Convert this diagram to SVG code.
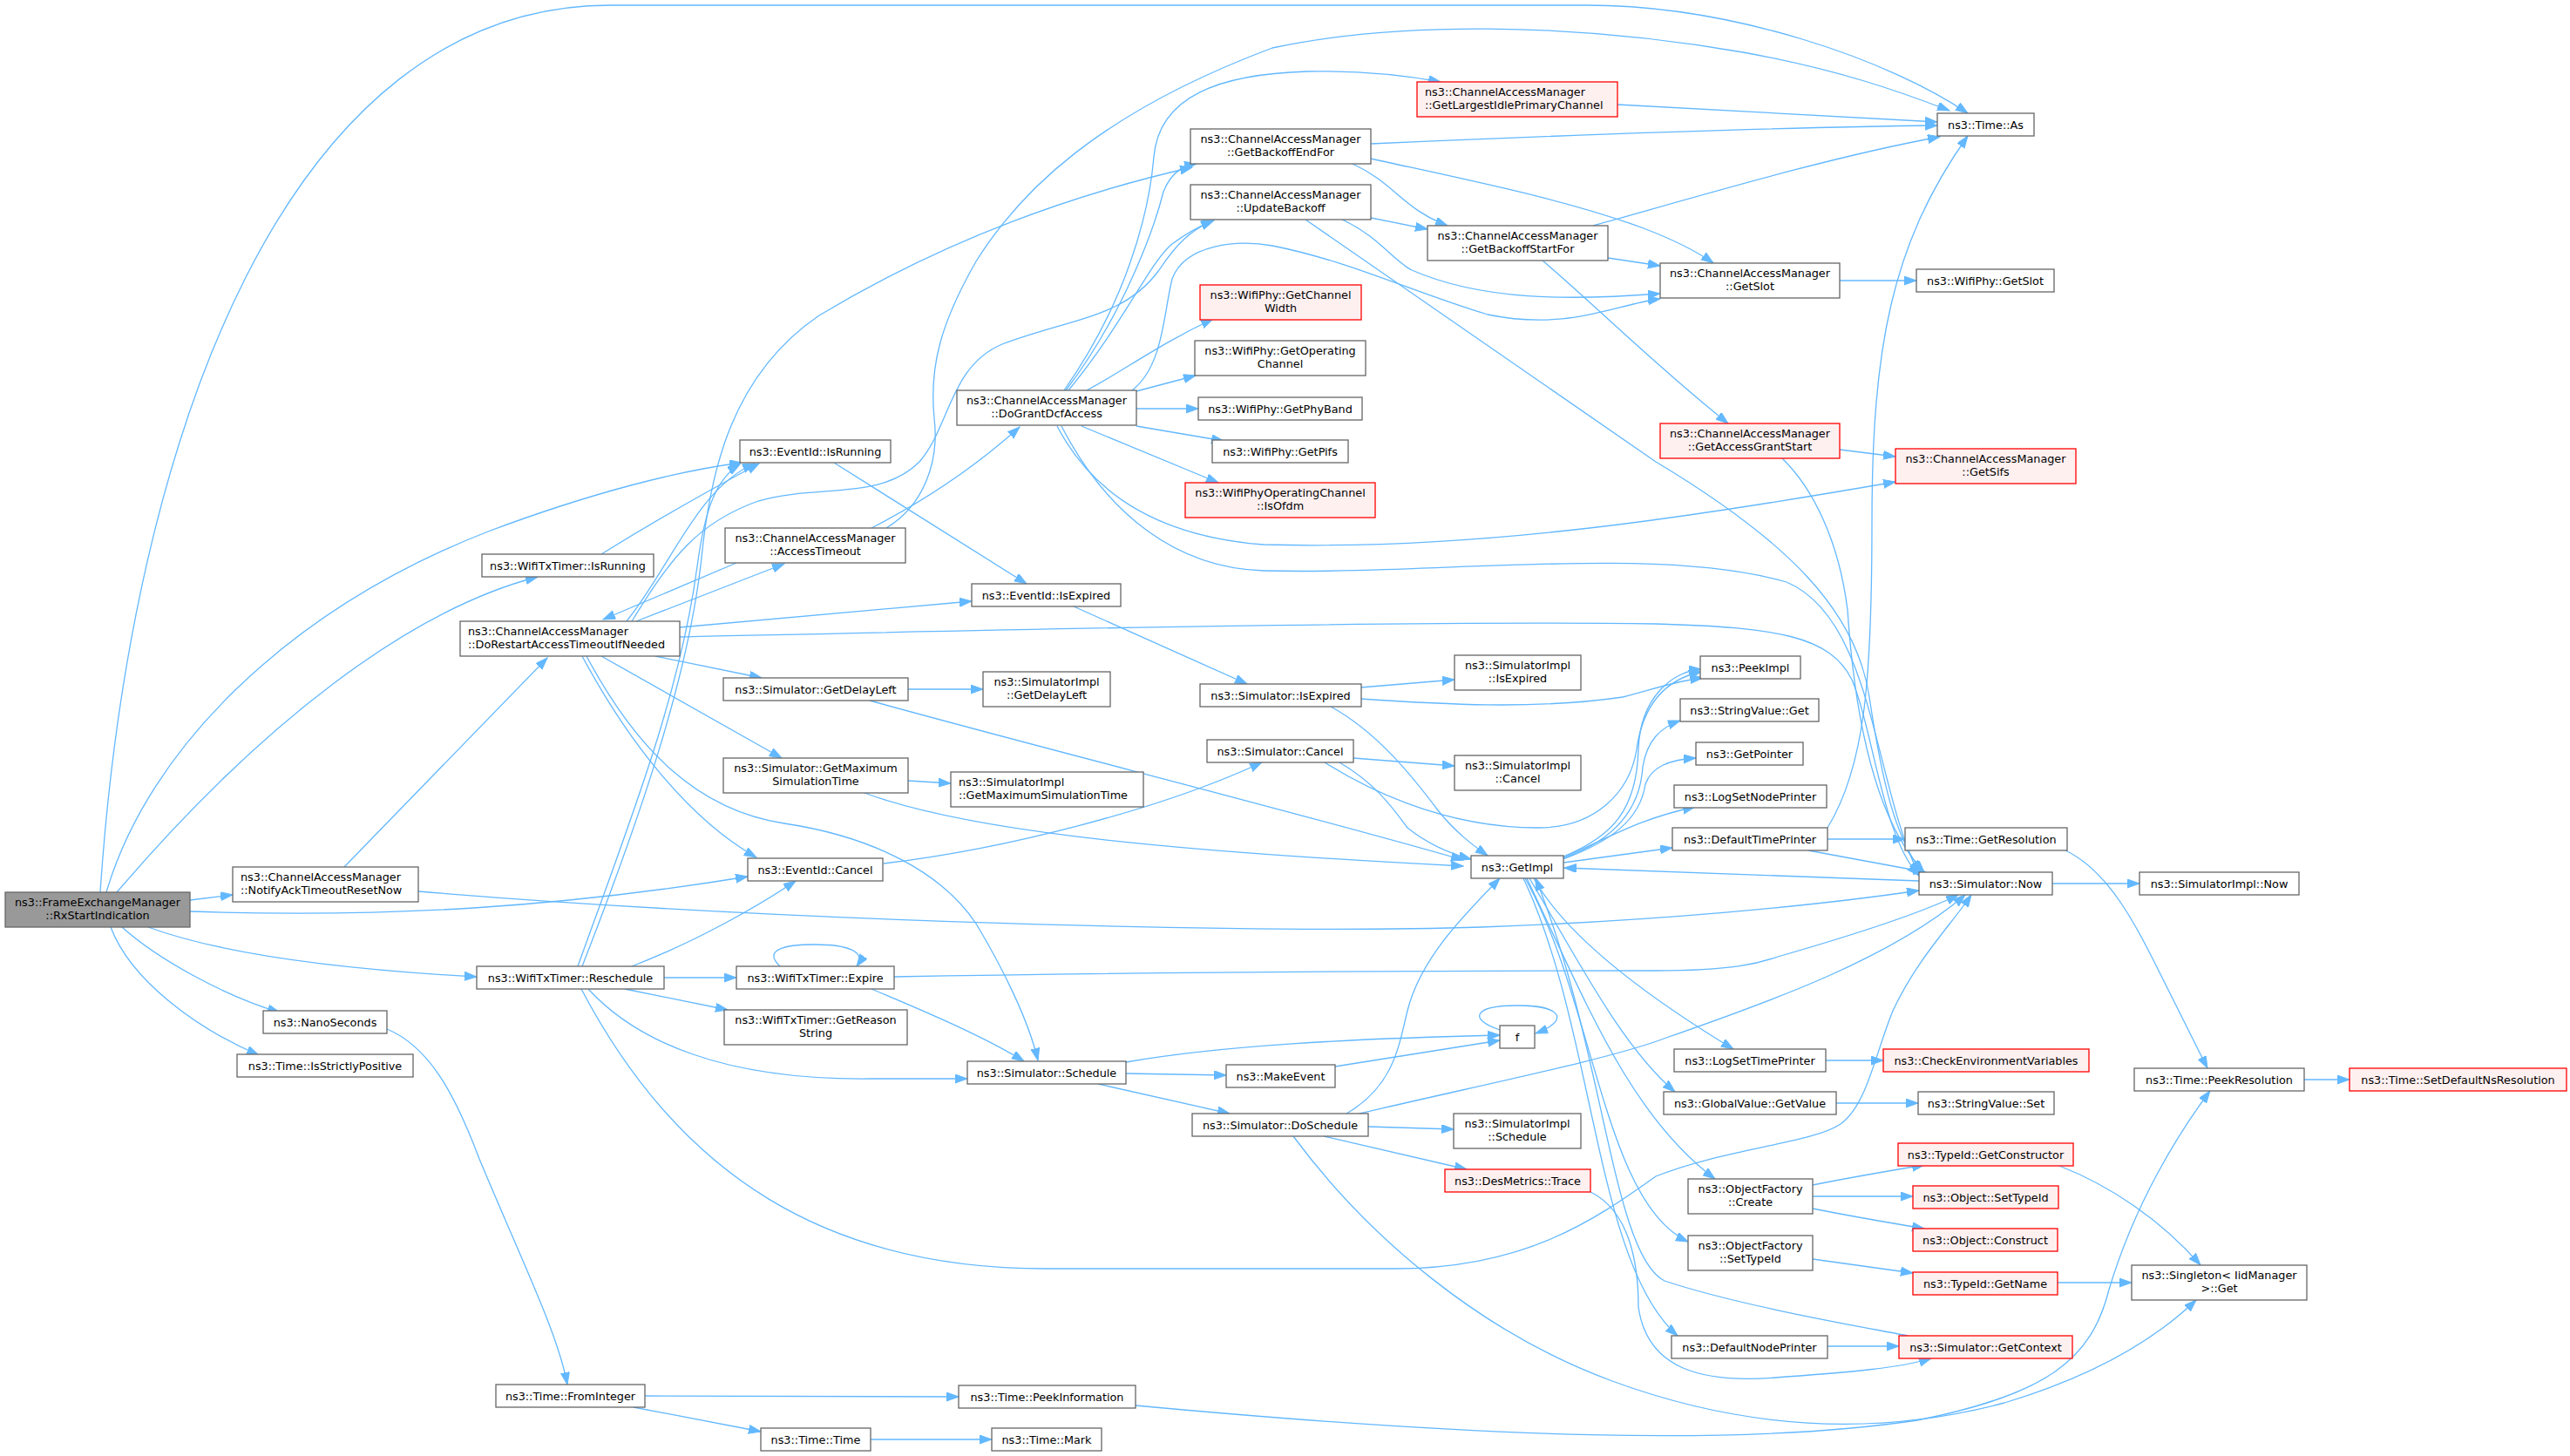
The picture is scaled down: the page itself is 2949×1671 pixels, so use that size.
<svg xmlns="http://www.w3.org/2000/svg" width="2949" height="1671" viewBox="0 0 2949 1671">
<defs>
<style>
.nd rect{fill:#ffffff;stroke:#666666;stroke-width:1.3}
.rd rect{fill:#fff0f0;stroke:#ff0000;stroke-width:1.3}
.gd rect{fill:#999999;stroke:#666666;stroke-width:1.3}
text{font-family:"DejaVu Sans","Liberation Sans",sans-serif;font-size:12.8px;fill:#000000;text-anchor:middle}
text.l{text-anchor:start}
#edges path{fill:none;stroke:#63b8ff;stroke-width:1.3;marker-end:url(#a)}
</style>
<marker id="a" markerUnits="userSpaceOnUse" markerWidth="15" markerHeight="11" refX="14" refY="5" orient="auto" viewBox="0 0 15 11"><path d="M0,0 L14,5 L0,10 z" fill="#63b8ff" stroke="#63b8ff" stroke-width="1"/></marker>
</defs>
<rect x="0" y="0" width="2949" height="1671" fill="#ffffff"/>
<g id="edges">
<path d="M115,1024 C150,500 330,6 700,6 L1820,6 C1990,6 2170,70 2258,130"/>
<path d="M122,1024 C170,860 330,700 560,610 C680,565 780,540 851,531"/>
<path d="M134,1024 C300,830 470,700 617,662"/>
<path d="M218,1033 L267,1027"/>
<path d="M218,1046 C450,1054 650,1040 858,1006"/>
<path d="M170,1064 C260,1097 400,1113 547,1121"/>
<path d="M140,1064 C180,1100 255,1142 321,1162"/>
<path d="M127,1064 C150,1125 225,1180 297,1211"/>
<path d="M690,636 C740,605 800,570 871,532"/>
<path d="M395,995 L628,755"/>
<path d="M480,1023 C900,1058 1450,1072 1700,1064 C1900,1057 2080,1040 2202,1022"/>
<path d="M719,713 C770,650 800,560 866,532"/>
<path d="M663,1109 C720,950 780,800 800,650 C808,590 820,550 849,533"/>
<path d="M668,1109 C730,950 790,780 805,640 C815,540 840,430 940,362 C1060,290 1200,230 1368,192"/>
<path d="M725,713 C770,640 800,600 870,575 C940,555 1010,575 1055,530 C1090,490 1090,420 1150,395 C1230,365 1290,365 1330,310 C1350,280 1365,265 1392,253"/>
<path d="M1017,606 C1060,580 1078,530 1072,480 C1066,420 1080,370 1120,300 C1170,220 1260,130 1460,55 C1600,25 1800,25 2000,60 C2110,80 2180,105 2237,127"/>
<path d="M730,713 L900,647"/>
<path d="M845,646 L692,711"/>
<path d="M1000,606 C1060,575 1120,535 1170,490"/>
<path d="M780,720 L1115,690"/>
<path d="M780,731 C1100,724 1600,712 1900,716 C2040,720 2100,730 2125,780 C2150,840 2160,960 2202,1005"/>
<path d="M752,753 L874,778"/>
<path d="M690,753 L897,870"/>
<path d="M668,753 C720,850 790,940 868,984"/>
<path d="M673,753 C730,860 800,930 900,945 C1000,960 1080,1000 1120,1060 C1150,1110 1180,1170 1191,1217"/>
<path d="M957,531 L1178,670"/>
<path d="M1232,696 L1431,785"/>
<path d="M1042,791 L1128,791"/>
<path d="M998,804 C1200,860 1500,935 1679,987"/>
<path d="M1042,896 L1091,899"/>
<path d="M992,910 C1100,950 1300,975 1679,994"/>
<path d="M1014,991 C1150,975 1330,930 1448,875"/>
<path d="M762,1122 L845,1122"/>
<path d="M717,1135 L835,1159"/>
<path d="M675,1135 C730,1195 830,1240 1000,1238 L1110,1238"/>
<path d="M667,1135 C780,1350 950,1456 1200,1456 L1600,1456 C1750,1456 1830,1400 1900,1350 C1980,1318 2080,1312 2112,1290 C2142,1268 2150,1215 2172,1160 C2200,1100 2240,1060 2262,1027"/>
<path d="M725,1109 C800,1080 870,1040 913,1011"/>
<path d="M895,1109 C875,1090 900,1084 935,1084 C972,1084 995,1092 983,1109"/>
<path d="M1000,1135 C1060,1160 1130,1190 1175,1218"/>
<path d="M1026,1121 C1300,1116 1600,1114 1900,1114 C1990,1114 2020,1105 2040,1098 C2120,1075 2200,1050 2247,1027"/>
<path d="M444,1181 C490,1200 520,1250 550,1330 C600,1450 640,1530 651,1589"/>
<path d="M740,1602 L1100,1603"/>
<path d="M727,1615 L873,1643"/>
<path d="M999,1652 L1138,1652"/>
<path d="M1303,1613 C1700,1650 2000,1660 2200,1630 C2350,1600 2400,1560 2420,1480 C2450,1380 2500,1300 2536,1252"/>
<path d="M1292,1219 C1400,1200 1550,1192 1721,1188"/>
<path d="M1292,1232 L1407,1234"/>
<path d="M1260,1244 L1411,1278"/>
<path d="M1532,1224 L1721,1194"/>
<path d="M1721,1182 C1685,1170 1690,1154 1741,1154 C1795,1154 1800,1172 1762,1186"/>
<path d="M1570,1293 L1668,1296"/>
<path d="M1519,1304 L1683,1342"/>
<path d="M1545,1278 C1600,1246 1605,1200 1615,1160 C1630,1100 1680,1050 1721,1008"/>
<path d="M1560,1278 C1700,1245 1850,1215 1912,1191 C2030,1150 2170,1100 2255,1027"/>
<path d="M1484,1304 C1570,1420 1700,1530 1850,1585 C2000,1640 2150,1650 2300,1610 C2400,1580 2470,1540 2520,1492"/>
<path d="M1221,448 C1290,350 1318,250 1324,180 C1330,110 1400,85 1500,82 C1560,81 1610,86 1653,94"/>
<path d="M1223,448 C1290,360 1325,260 1335,220 C1345,195 1360,190 1373,188"/>
<path d="M1226,448 C1290,370 1320,300 1345,280 C1365,265 1380,258 1393,253"/>
<path d="M1299,448 C1335,420 1335,360 1345,320 C1360,280 1420,275 1460,282 C1550,300 1620,335 1707,361 C1800,380 1850,350 1905,343"/>
<path d="M1247,448 C1290,425 1330,395 1392,366"/>
<path d="M1304,449 L1372,431"/>
<path d="M1304,469 L1375,469"/>
<path d="M1304,489 L1404,506"/>
<path d="M1241,489 L1398,554"/>
<path d="M1213,489 C1250,560 1320,615 1450,625 C1700,632 1950,592 2175,553"/>
<path d="M1218,489 C1270,590 1350,652 1450,655 C1650,660 1900,625 2050,668 C2150,710 2150,900 2202,1004"/>
<path d="M1573,165 C1800,155 2050,146 2223,144"/>
<path d="M1552,188 C1600,210 1610,240 1661,259"/>
<path d="M1573,182 C1700,210 1800,230 1886,262 C1920,275 1945,287 1966,302"/>
<path d="M1573,250 L1638,263"/>
<path d="M1540,252 C1580,270 1600,300 1620,310 C1700,345 1800,345 1905,337"/>
<path d="M1498,252 L1900,530 C2050,620 2130,700 2145,800 C2160,900 2175,960 2205,1001"/>
<path d="M1856,120 L2223,140"/>
<path d="M1828,259 C1950,225 2100,180 2226,157"/>
<path d="M1845,296 L1905,305"/>
<path d="M1770,299 C1830,350 1900,420 1983,486"/>
<path d="M2111,322 L2199,322"/>
<path d="M2111,516 L2175,524"/>
<path d="M2045,526 C2080,560 2110,620 2120,700 C2130,850 2160,950 2208,1001"/>
<path d="M1561,789 L1669,780"/>
<path d="M1561,802 C1650,808 1760,815 1862,800 C1900,790 1930,780 1954,778"/>
<path d="M1527,811 C1580,840 1620,890 1650,930 C1670,955 1690,970 1707,982"/>
<path d="M1553,870 L1669,879"/>
<path d="M1537,875 C1580,900 1600,930 1615,950 C1640,970 1665,980 1688,986"/>
<path d="M1520,875 C1560,900 1650,950 1765,950 C1830,950 1870,910 1878,860 C1885,810 1910,780 1952,771"/>
<path d="M1794,983 C1850,960 1878,930 1880,860 C1882,800 1920,770 1952,768"/>
<path d="M1794,985 C1850,965 1882,930 1885,880 C1890,850 1905,835 1928,827"/>
<path d="M1794,986 C1850,965 1882,940 1888,900 C1895,880 1915,872 1946,870"/>
<path d="M1794,984 C1850,960 1880,940 1945,926"/>
<path d="M1794,990 L1919,973"/>
<path d="M2202,1011 L1795,996"/>
<path d="M2097,950 C2140,880 2148,780 2148,600 C2148,400 2170,280 2258,156"/>
<path d="M2097,963 L2186,963"/>
<path d="M2075,976 L2210,1001"/>
<path d="M2370,976 C2420,1000 2450,1060 2480,1120 C2500,1160 2520,1200 2533,1226"/>
<path d="M2355,1014 L2455,1014"/>
<path d="M2644,1239 L2696,1239"/>
<path d="M1760,1008 C1800,1080 1900,1150 1989,1204"/>
<path d="M1755,1008 C1810,1100 1860,1200 1922,1253"/>
<path d="M1752,1008 C1820,1150 1870,1280 1968,1353"/>
<path d="M1750,1008 C1830,1150 1840,1380 1937,1425"/>
<path d="M1748,1008 C1830,1180 1830,1450 1925,1533"/>
<path d="M2189,1533 C2150,1525 2000,1500 1910,1470 C1850,1440 1840,1200 1762,1008"/>
<path d="M1825,1368 C1870,1390 1880,1450 1880,1500 C1890,1570 1950,1590 2050,1580 C2120,1575 2180,1570 2216,1559"/>
<path d="M2097,1545 L2179,1545"/>
<path d="M2095,1217 L2161,1217"/>
<path d="M2107,1266 L2201,1266"/>
<path d="M2080,1360 C2120,1352 2160,1345 2208,1337"/>
<path d="M2080,1373 L2195,1373"/>
<path d="M2080,1387 C2120,1395 2160,1402 2208,1410"/>
<path d="M2080,1445 L2195,1461"/>
<path d="M2363,1338 C2420,1360 2480,1400 2525,1452"/>
<path d="M2361,1472 L2446,1472"/>
</g>
<g id="n_rx" class="gd"><rect x="6" y="1024" width="212" height="40"/><text x="112" y="1040">ns3::FrameExchangeManager</text><text x="112" y="1055">::RxStartIndication</text></g>
<g id="n_notify" class="nd"><rect x="267" y="995" width="213" height="40"/><text class="l" x="276" y="1011">ns3::ChannelAccessManager</text><text class="l" x="276" y="1026">::NotifyAckTimeoutResetNow</text></g>
<g id="n_wtxisrun" class="nd"><rect x="553" y="636" width="197" height="26"/><text x="651.5" y="653.5">ns3::WifiTxTimer::IsRunning</text></g>
<g id="n_dorestart" class="nd"><rect x="528" y="713" width="252" height="40"/><text class="l" x="537" y="729">ns3::ChannelAccessManager</text><text class="l" x="537" y="744">::DoRestartAccessTimeoutIfNeeded</text></g>
<g id="n_resched" class="nd"><rect x="547" y="1109" width="215" height="26"/><text x="654.5" y="1126.5">ns3::WifiTxTimer::Reschedule</text></g>
<g id="n_nano" class="nd"><rect x="302" y="1160" width="142" height="26"/><text x="373" y="1177.5">ns3::NanoSeconds</text></g>
<g id="n_strict" class="nd"><rect x="272" y="1210" width="202" height="26"/><text x="373" y="1227.5">ns3::Time::IsStrictlyPositive</text></g>
<g id="n_evrun" class="nd"><rect x="849" y="505" width="173" height="26"/><text x="935.5" y="522.5">ns3::EventId::IsRunning</text></g>
<g id="n_accto" class="nd"><rect x="832" y="606" width="207" height="40"/><text x="935.5" y="622">ns3::ChannelAccessManager</text><text x="935.5" y="637">::AccessTimeout</text></g>
<g id="n_delay" class="nd"><rect x="830" y="778" width="212" height="26"/><text x="936" y="795.5">ns3::Simulator::GetDelayLeft</text></g>
<g id="n_maxsim" class="nd"><rect x="830" y="870" width="212" height="40"/><text x="936" y="886">ns3::Simulator::GetMaximum</text><text x="936" y="901">SimulationTime</text></g>
<g id="n_evcancel" class="nd"><rect x="858" y="985" width="155" height="26"/><text x="935.5" y="1002.5">ns3::EventId::Cancel</text></g>
<g id="n_expire" class="nd"><rect x="845" y="1109" width="181" height="26"/><text x="935.5" y="1126.5">ns3::WifiTxTimer::Expire</text></g>
<g id="n_reason" class="nd"><rect x="831" y="1159" width="210" height="40"/><text x="936" y="1175">ns3::WifiTxTimer::GetReason</text><text x="936" y="1190">String</text></g>
<g id="n_fromint" class="nd"><rect x="569" y="1589" width="171" height="26"/><text x="654.5" y="1606.5">ns3::Time::FromInteger</text></g>
<g id="n_time" class="nd"><rect x="873" y="1639" width="126" height="26"/><text x="936" y="1656.5">ns3::Time::Time</text></g>
<g id="n_peekinfo" class="nd"><rect x="1100" y="1590" width="203" height="26"/><text x="1201.5" y="1607.5">ns3::Time::PeekInformation</text></g>
<g id="n_mark" class="nd"><rect x="1138" y="1639" width="126" height="26"/><text x="1201" y="1656.5">ns3::Time::Mark</text></g>
<g id="n_dogrant" class="nd"><rect x="1098" y="448" width="206" height="40"/><text x="1201" y="464">ns3::ChannelAccessManager</text><text x="1201" y="479">::DoGrantDcfAccess</text></g>
<g id="n_evexp" class="nd"><rect x="1115" y="670" width="171" height="26"/><text x="1200.5" y="687.5">ns3::EventId::IsExpired</text></g>
<g id="n_impldelay" class="nd"><rect x="1128" y="771" width="146" height="40"/><text x="1201" y="787">ns3::SimulatorImpl</text><text x="1201" y="802">::GetDelayLeft</text></g>
<g id="n_implmax" class="nd"><rect x="1091" y="886" width="221" height="40"/><text class="l" x="1100" y="902">ns3::SimulatorImpl</text><text class="l" x="1100" y="917">::GetMaximumSimulationTime</text></g>
<g id="n_sched" class="nd"><rect x="1110" y="1218" width="182" height="26"/><text x="1201" y="1235.5">ns3::Simulator::Schedule</text></g>
<g id="n_makeev" class="nd"><rect x="1407" y="1222" width="125" height="26"/><text x="1469.5" y="1239.5">ns3::MakeEvent</text></g>
<g id="n_dosched" class="nd"><rect x="1368" y="1278" width="202" height="26"/><text x="1469" y="1295.5">ns3::Simulator::DoSchedule</text></g>
<g id="n_backend" class="nd"><rect x="1366" y="148" width="207" height="40"/><text x="1469.5" y="164">ns3::ChannelAccessManager</text><text x="1469.5" y="179">::GetBackoffEndFor</text></g>
<g id="n_update" class="nd"><rect x="1366" y="212" width="207" height="40"/><text x="1469.5" y="228">ns3::ChannelAccessManager</text><text x="1469.5" y="243">::UpdateBackoff</text></g>
<g id="n_chw" class="rd"><rect x="1377" y="327" width="185" height="40"/><text x="1469.5" y="343">ns3::WifiPhy::GetChannel</text><text x="1469.5" y="358">Width</text></g>
<g id="n_opch" class="nd"><rect x="1371" y="391" width="196" height="40"/><text x="1469" y="407">ns3::WifiPhy::GetOperating</text><text x="1469" y="422">Channel</text></g>
<g id="n_band" class="nd"><rect x="1375" y="456" width="188" height="26"/><text x="1469" y="473.5">ns3::WifiPhy::GetPhyBand</text></g>
<g id="n_pifs" class="nd"><rect x="1391" y="505" width="156" height="26"/><text x="1469" y="522.5">ns3::WifiPhy::GetPifs</text></g>
<g id="n_ofdm" class="rd"><rect x="1360" y="554" width="218" height="40"/><text x="1469" y="570">ns3::WifiPhyOperatingChannel</text><text x="1469" y="585">::IsOfdm</text></g>
<g id="n_simexp" class="nd"><rect x="1377" y="785" width="185" height="26"/><text x="1469.5" y="802.5">ns3::Simulator::IsExpired</text></g>
<g id="n_simcancel" class="nd"><rect x="1385" y="849" width="168" height="26"/><text x="1469" y="866.5">ns3::Simulator::Cancel</text></g>
<g id="n_largest" class="rd"><rect x="1626" y="94" width="230" height="40"/><text class="l" x="1635" y="110">ns3::ChannelAccessManager</text><text class="l" x="1635" y="125">::GetLargestIdlePrimaryChannel</text></g>
<g id="n_backstart" class="nd"><rect x="1638" y="259" width="207" height="40"/><text x="1741.5" y="275">ns3::ChannelAccessManager</text><text x="1741.5" y="290">::GetBackoffStartFor</text></g>
<g id="n_impliexp" class="nd"><rect x="1669" y="752" width="145" height="40"/><text x="1741.5" y="768">ns3::SimulatorImpl</text><text x="1741.5" y="783">::IsExpired</text></g>
<g id="n_implcancel" class="nd"><rect x="1669" y="867" width="145" height="40"/><text x="1741.5" y="883">ns3::SimulatorImpl</text><text x="1741.5" y="898">::Cancel</text></g>
<g id="n_getimpl" class="nd"><rect x="1688" y="982" width="106" height="26"/><text x="1741" y="999.5">ns3::GetImpl</text></g>
<g id="n_f" class="nd"><rect x="1721" y="1177" width="40" height="26"/><text x="1741" y="1194.5">f</text></g>
<g id="n_implsched" class="nd"><rect x="1668" y="1278" width="146" height="40"/><text x="1741" y="1294">ns3::SimulatorImpl</text><text x="1741" y="1309">::Schedule</text></g>
<g id="n_trace" class="rd"><rect x="1658" y="1342" width="167" height="26"/><text x="1741.5" y="1359.5">ns3::DesMetrics::Trace</text></g>
<g id="n_getslot" class="nd"><rect x="1905" y="302" width="206" height="40"/><text x="2008" y="318">ns3::ChannelAccessManager</text><text x="2008" y="333">::GetSlot</text></g>
<g id="n_grant" class="rd"><rect x="1905" y="486" width="206" height="40"/><text x="2008" y="502">ns3::ChannelAccessManager</text><text x="2008" y="517">::GetAccessGrantStart</text></g>
<g id="n_peekimpl" class="nd"><rect x="1951" y="753" width="115" height="26"/><text x="2008.5" y="770.5">ns3::PeekImpl</text></g>
<g id="n_svget" class="nd"><rect x="1928" y="802" width="159" height="26"/><text x="2007.5" y="819.5">ns3::StringValue::Get</text></g>
<g id="n_getptr" class="nd"><rect x="1946" y="852" width="123" height="26"/><text x="2007.5" y="869.5">ns3::GetPointer</text></g>
<g id="n_lognode" class="nd"><rect x="1921" y="901" width="175" height="26"/><text x="2008.5" y="918.5">ns3::LogSetNodePrinter</text></g>
<g id="n_deftime" class="nd"><rect x="1919" y="950" width="178" height="26"/><text x="2008" y="967.5">ns3::DefaultTimePrinter</text></g>
<g id="n_logtime" class="nd"><rect x="1921" y="1204" width="174" height="26"/><text x="2008" y="1221.5">ns3::LogSetTimePrinter</text></g>
<g id="n_gvget" class="nd"><rect x="1909" y="1253" width="198" height="26"/><text x="2008" y="1270.5">ns3::GlobalValue::GetValue</text></g>
<g id="n_ofcreate" class="nd"><rect x="1937" y="1353" width="143" height="40"/><text x="2008.5" y="1369">ns3::ObjectFactory</text><text x="2008.5" y="1384">::Create</text></g>
<g id="n_ofset" class="nd"><rect x="1937" y="1418" width="143" height="40"/><text x="2008.5" y="1434">ns3::ObjectFactory</text><text x="2008.5" y="1449">::SetTypeId</text></g>
<g id="n_defnode" class="nd"><rect x="1918" y="1533" width="179" height="26"/><text x="2007.5" y="1550.5">ns3::DefaultNodePrinter</text></g>
<g id="n_timeas" class="nd"><rect x="2223" y="130" width="111" height="26"/><text x="2278.5" y="147.5">ns3::Time::As</text></g>
<g id="n_physlot" class="nd"><rect x="2199" y="309" width="158" height="26"/><text x="2278" y="326.5">ns3::WifiPhy::GetSlot</text></g>
<g id="n_sifs" class="rd"><rect x="2175" y="515" width="207" height="40"/><text x="2278.5" y="531">ns3::ChannelAccessManager</text><text x="2278.5" y="546">::GetSifs</text></g>
<g id="n_getres" class="nd"><rect x="2186" y="950" width="186" height="26"/><text x="2279" y="967.5">ns3::Time::GetResolution</text></g>
<g id="n_now" class="nd"><rect x="2202" y="1001" width="153" height="26"/><text x="2278.5" y="1018.5">ns3::Simulator::Now</text></g>
<g id="n_implnow" class="nd"><rect x="2455" y="1001" width="183" height="26"/><text x="2546.5" y="1018.5">ns3::SimulatorImpl::Now</text></g>
<g id="n_checkenv" class="rd"><rect x="2161" y="1204" width="236" height="26"/><text x="2279" y="1221.5">ns3::CheckEnvironmentVariables</text></g>
<g id="n_svset" class="nd"><rect x="2201" y="1253" width="156" height="26"/><text x="2279" y="1270.5">ns3::StringValue::Set</text></g>
<g id="n_getctor" class="rd"><rect x="2178" y="1312" width="201" height="26"/><text x="2278.5" y="1329.5">ns3::TypeId::GetConstructor</text></g>
<g id="n_objset" class="rd"><rect x="2195" y="1361" width="167" height="26"/><text x="2278.5" y="1378.5">ns3::Object::SetTypeId</text></g>
<g id="n_objcons" class="rd"><rect x="2195" y="1410" width="166" height="26"/><text x="2278" y="1427.5">ns3::Object::Construct</text></g>
<g id="n_getname" class="rd"><rect x="2195" y="1460" width="166" height="26"/><text x="2278" y="1477.5">ns3::TypeId::GetName</text></g>
<g id="n_getctx" class="rd"><rect x="2179" y="1533" width="199" height="26"/><text x="2278.5" y="1550.5">ns3::Simulator::GetContext</text></g>
<g id="n_peekres" class="nd"><rect x="2449" y="1226" width="195" height="26"/><text x="2546.5" y="1243.5">ns3::Time::PeekResolution</text></g>
<g id="n_setdef" class="rd"><rect x="2696" y="1226" width="249" height="26"/><text x="2820.5" y="1243.5">ns3::Time::SetDefaultNsResolution</text></g>
<g id="n_singleton" class="nd"><rect x="2446" y="1452" width="201" height="40"/><text x="2546.5" y="1468">ns3::Singleton&lt; IidManager</text><text x="2546.5" y="1483">&gt;::Get</text></g>
</svg>
